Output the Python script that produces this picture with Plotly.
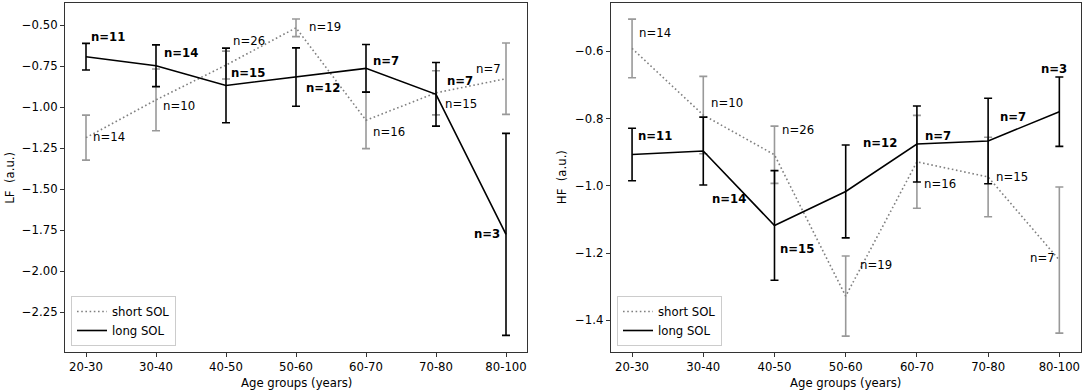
import plotly.graph_objects as go

categories = ["20-30", "30-40", "40-50", "50-60", "60-70", "70-80", "80-100"]

# LF panel
lf_short = [-1.186, -0.956, -0.744, -0.517, -1.080, -0.913, -0.827]
lf_short_err = [0.137, 0.188, 0.085, 0.054, 0.173, 0.134, 0.217]
lf_long = [-0.693, -0.748, -0.868, -0.817, -0.764, -0.922, -1.775]
lf_long_err = [0.081, 0.127, 0.227, 0.178, 0.145, 0.194, 0.615]
lf_short_n = [14, 10, 26, 19, 16, 15, 7]
lf_long_n = [11, 14, 15, 12, 7, 7, 3]

# HF panel
hf_short = [-0.592, -0.790, -0.908, -1.328, -0.929, -0.974, -1.221]
hf_short_err = [0.087, 0.115, 0.085, 0.119, 0.138, 0.118, 0.217]
hf_long = [-0.907, -0.897, -1.118, -1.017, -0.876, -0.867, -0.780]
hf_long_err = [0.078, 0.101, 0.163, 0.138, 0.113, 0.127, 0.103]
hf_short_n = [14, 10, 26, 19, 16, 15, 7]
hf_long_n = [11, 14, 15, 12, 7, 7, 3]

# label placement (data coords: x offset from group index, y position, anchor)
lf_long_lab = [(0.05, -0.575, "left"), (0.10, -0.669, "left"), (0.06, -0.793, "left"),
               (0.13, -0.886, "left"), (0.09, -0.717, "left"), (0.14, -0.843, "left"),
               (-0.07, -1.773, "right")]
lf_short_lab = [(0.09, -1.181, "left"), (0.09, -0.992, "left"), (0.09, -0.600, "left"),
                (0.17, -0.512, "left"), (0.09, -1.150, "left"), (0.12, -0.984, "left"),
                (-0.06, -0.766, "right")]
hf_long_lab = [(0.07, -0.853, "left"), (0.11, -1.038, "left"), (0.06, -1.189, "left"),
               (0.23, -0.873, "left"), (0.10, -0.851, "left"), (0.15, -0.796, "left"),
               (-0.07, -0.654, "center")]
hf_short_lab = [(0.09, -0.547, "left"), (0.10, -0.754, "left"), (0.09, -0.834, "left"),
                (0.18, -1.236, "left"), (0.09, -0.994, "left"), (0.10, -0.974, "left"),
                (-0.05, -1.214, "right")]

W, H = 1084, 392
FONT = "DejaVu Sans"
FS = 11.7
GRAY = "#999999"
xs = list(range(len(categories)))

fig = go.Figure()


def add_pair(short, short_err, long_, long_err, xa, ya, leg):
    fig.add_trace(go.Scatter(
        x=xs, y=short, mode="lines", name="short SOL",
        line=dict(color="#808080", width=1.6, dash="1.6px,2.6px"),
        error_y=dict(type="data", array=short_err, visible=True, color=GRAY,
                     thickness=1.6, width=4),
        xaxis=xa, yaxis=ya, legend=leg))
    fig.add_trace(go.Scatter(
        x=xs, y=long_, mode="lines", name="long SOL",
        line=dict(color="black", width=1.6),
        error_y=dict(type="data", array=long_err, visible=True, color="black",
                     thickness=1.6, width=4),
        xaxis=xa, yaxis=ya, legend=leg))


add_pair(lf_short, lf_short_err, lf_long, lf_long_err, "x", "y", "legend")
add_pair(hf_short, hf_short_err, hf_long, hf_long_err, "x2", "y2", "legend2")

ann = []


def add_labels(ns, labs, xr, yr, bold):
    for i, (n, (dx, yv, anc)) in enumerate(zip(ns, labs)):
        t = f"n={n}"
        if bold:
            t = f"<b>{t}</b>"
        ann.append(dict(x=i + dx, y=yv, xref=xr, yref=yr, text=t, showarrow=False,
                        xanchor=anc, yanchor="middle", borderpad=0,
                        font=dict(family=FONT, size=FS, color="black")))


add_labels(lf_long_n, lf_long_lab, "x", "y", True)
add_labels(lf_short_n, lf_short_lab, "x", "y", False)
add_labels(hf_long_n, hf_long_lab, "x2", "y2", True)
add_labels(hf_short_n, hf_short_lab, "x2", "y2", False)

# axis titles
ax1 = (65 / W, 527 / W)
ax2 = (610.7 / W, 1080.7 / W)
yd = (1 - 352.3 / H, 1 - 3 / H)
ymid = (yd[0] + yd[1]) / 2
for xc, txt in [((ax1[0] + ax1[1]) / 2, "Age groups (years)"),
                ((ax2[0] + ax2[1]) / 2, "Age groups (years)")]:
    ann.append(dict(x=xc, y=1 - 383 / H, xref="paper", yref="paper", text=txt,
                    showarrow=False, xanchor="center", yanchor="middle",
                    font=dict(family=FONT, size=FS, color="black")))
for xp, txt in [(10 / W, "LF  (a.u.)"), (561.5 / W, "HF  (a.u.)")]:
    ann.append(dict(x=xp, y=ymid, xref="paper", yref="paper", text=txt, textangle=-90,
                    showarrow=False, xanchor="center", yanchor="middle",
                    font=dict(family=FONT, size=FS, color="black")))

axis_common = dict(showline=True, linecolor="#333333", linewidth=1, mirror=True,
                   ticks="outside", ticklen=4, tickwidth=1, tickcolor="#333333",
                   showgrid=False, zeroline=False, automargin=False,
                   tickfont=dict(family=FONT, size=FS, color="black"))

legend_common = dict(bgcolor="rgba(255,255,255,0.8)", bordercolor="#cccccc", borderwidth=1,
                     font=dict(family=FONT, size=FS, color="black"),
                     xanchor="left", yanchor="bottom", itemwidth=30,
                     tracegroupgap=0)

fig.update_layout(
    width=W, height=H,
    margin=dict(l=0, r=0, t=0, b=0),
    paper_bgcolor="white", plot_bgcolor="white",
    font=dict(family=FONT, size=FS, color="black"),
    xaxis=dict(domain=list(ax1), range=[-0.3, 6.3], tickvals=xs, ticktext=categories,
               anchor="y", **axis_common),
    yaxis=dict(domain=list(yd), range=[-2.493, -0.366], tick0=0, dtick=0.25,
               tickformat=".2f", anchor="x", **axis_common),
    xaxis2=dict(domain=list(ax2), range=[-0.3, 6.3], tickvals=xs, ticktext=categories,
                anchor="y2", **axis_common),
    yaxis2=dict(domain=list(yd), range=[-1.495, -0.457], tick0=0, dtick=0.2,
                tickformat=".1f", anchor="x2", **axis_common),
    legend=dict(x=71 / W, y=1 - 346 / H, **legend_common),
    legend2=dict(x=617 / W, y=1 - 346 / H, **legend_common),
    annotations=ann,
)

fig.write_html("out.html", config={"displayModeBar": False},
               post_script="document.body.style.margin='0';document.body.style.overflow='hidden';")
